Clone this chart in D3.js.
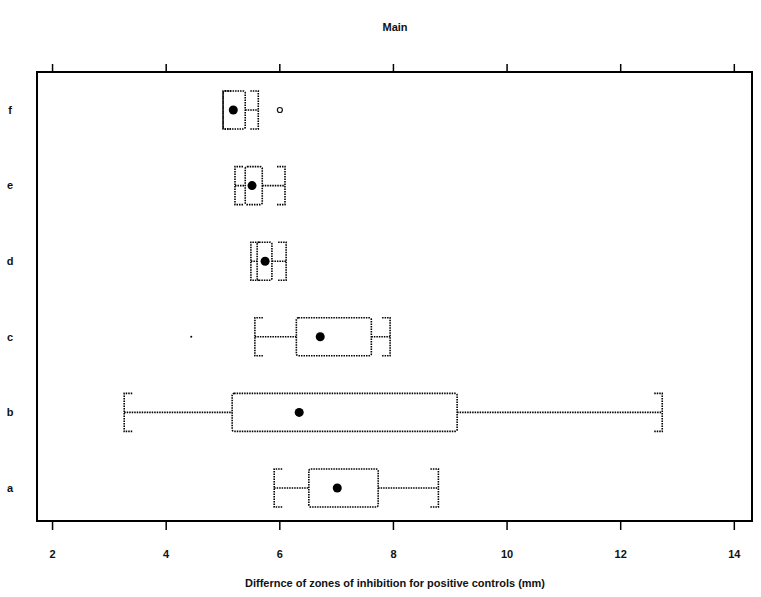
<!DOCTYPE html>
<html>
<head>
<meta charset="utf-8">
<script src="https://cdn.jsdelivr.net/npm/d3@7"></script>
<style>
  body { margin: 0; background: #fff; }
  text { font-family: 'Liberation Sans', Arial, sans-serif; font-weight: bold; fill: #111; }
</style>
</head>
<body>
<div id="box-div"></div>
<script>
// data
const groups = ['a', 'b', 'c', 'd', 'e', 'f']
const lowWhisker = [5.91, 3.27, 5.57, 5.50, 5.22, 5.01]
const q1 = [6.52, 5.17, 6.30, 5.61, 5.40, 5.01]
const medians = [7.02, 6.35, 6.72, 5.75, 5.52, 5.19]
const q3 = [7.74, 9.13, 7.62, 5.87, 5.70, 5.40]
const highWhisker = [8.80, 12.74, 7.95, 6.12, 6.10, 5.63]
const outlierGroups = ['f', 'c']
const outlierValues = [6.01, 4.45]
const xTicks = [2, 4, 6, 8, 10, 12, 14]

const dms = {
    width: 761,
    height: 597,
    frame: { left: 37, right: 752, top: 72, bottom: 521 }
}

const svg = d3.select('#box-div').append('svg')
    .attr('width', dms.width)
    .attr('height', dms.height)

const xScale = d3.scaleLinear()
    .domain([1.735, 14.32])
    .range([dms.frame.left, dms.frame.right])

const yScale = d3.scalePoint()
    .domain(groups)
    .range([488, 110])

const boxH = 38
const serif = 8
const dotted = '1.5,1'

const stats = groups.map((g, i) => ({
    g: g,
    lo: lowWhisker[i], q1: q1[i], med: medians[i], q3: q3[i], hi: highWhisker[i]
}))

// frame
svg.append('rect')
    .attr('x', dms.frame.left)
    .attr('y', dms.frame.top)
    .attr('width', dms.frame.right - dms.frame.left)
    .attr('height', dms.frame.bottom - dms.frame.top)
    .attr('fill', 'none')
    .attr('stroke', '#000')
    .attr('stroke-width', 2)

// bottom axis
const bottomAxis = svg.append('g')
    .attr('transform', `translate(0,${dms.frame.bottom})`)
    .call(d3.axisBottom(xScale).tickValues(xTicks).tickSize(9).tickPadding(20))
bottomAxis.select('.domain').remove()
bottomAxis.selectAll('line').attr('stroke', '#000').attr('stroke-width', 1.5)
bottomAxis.selectAll('text')
    .style('font-family', "'Liberation Sans', Arial, sans-serif")
    .style('font-weight', 'bold')
    .style('font-size', '11px')
    .attr('fill', '#111')

// top ticks
const topAxis = svg.append('g')
    .attr('transform', `translate(0,${dms.frame.top})`)
    .call(d3.axisTop(xScale).tickValues(xTicks).tickSize(8).tickFormat(''))
topAxis.select('.domain').remove()
topAxis.selectAll('line').attr('stroke', '#000').attr('stroke-width', 1.5)

// group labels
svg.append('g').selectAll('text')
    .data(groups)
    .join('text')
    .attr('x', 10)
    .attr('y', d => yScale(d))
    .attr('dy', '0.35em')
    .attr('text-anchor', 'middle')
    .style('font-size', '11px')
    .text(d => d)

// titles
svg.append('text')
    .attr('x', 395)
    .attr('y', 31)
    .attr('text-anchor', 'middle')
    .style('font-size', '11px')
    .text('Main')

svg.append('text')
    .attr('x', 395)
    .attr('y', 587)
    .attr('text-anchor', 'middle')
    .style('font-size', '11px')
    .style('font-weight', '600')
    .text('Differnce of zones of inhibition for positive controls (mm)')

// boxes
const boxes = svg.append('g')
    .attr('fill', 'none')
    .attr('stroke', '#000')
    .attr('stroke-width', 1.6)
    .attr('stroke-dasharray', dotted)

const rows = boxes.selectAll('g')
    .data(stats)
    .join('g')

// whiskers
rows.append('line')
    .attr('x1', d => xScale(d.lo))
    .attr('x2', d => xScale(d.q1))
    .attr('y1', d => yScale(d.g))
    .attr('y2', d => yScale(d.g))
rows.append('line')
    .attr('x1', d => xScale(d.q3))
    .attr('x2', d => xScale(d.hi))
    .attr('y1', d => yScale(d.g))
    .attr('y2', d => yScale(d.g))

// brackets
rows.append('path')
    .attr('d', d => {
        const x = xScale(d.lo), y = yScale(d.g)
        return `M${x + serif},${y - boxH / 2}H${x}V${y + boxH / 2}H${x + serif}`
    })
rows.append('path')
    .attr('d', d => {
        const x = xScale(d.hi), y = yScale(d.g)
        return `M${x - serif},${y - boxH / 2}H${x}V${y + boxH / 2}H${x - serif}`
    })

// box
rows.append('rect')
    .attr('x', d => xScale(d.q1))
    .attr('y', d => yScale(d.g) - boxH / 2)
    .attr('width', d => xScale(d.q3) - xScale(d.q1))
    .attr('height', boxH)
    .attr('rx', 2)

// medians
svg.append('g').selectAll('circle')
    .data(stats)
    .join('circle')
    .attr('cx', d => xScale(d.med))
    .attr('cy', d => yScale(d.g))
    .attr('r', 4.5)
    .attr('fill', '#000')

// outliers
svg.append('g').selectAll('circle')
    .data(outlierGroups.map((g, i) => ({ g: g, v: outlierValues[i] })))
    .join('circle')
    .attr('cx', d => xScale(d.v))
    .attr('cy', d => yScale(d.g))
    .attr('r', (d, i) => i === 0 ? 2.5 : 1)
    .attr('fill', (d, i) => i === 0 ? 'none' : '#000')
    .attr('stroke', '#111')
    .attr('stroke-width', (d, i) => i === 0 ? 1.2 : 0)
</script>
</body>
</html>
